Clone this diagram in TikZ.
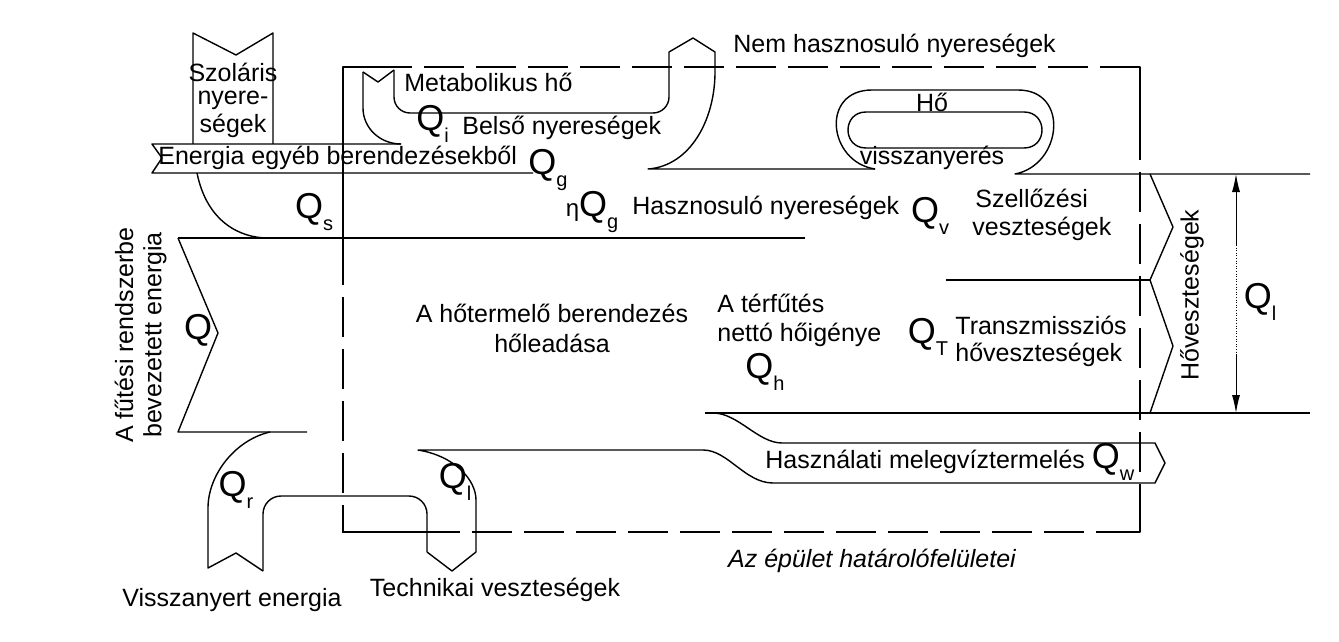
\documentclass[tikz,border=0pt]{standalone}
\usepackage{fontspec}
\setmainfont{Liberation Sans}
\usetikzlibrary{arrows.meta}
\newcommand{\qlab}[1]{{\fontsize{18}{18}\selectfont Q\raisebox{-6pt}{\fontsize{10}{10}\selectfont #1}}}
\begin{document}
\begin{tikzpicture}[x=0.5pt,y=-0.5pt,
  ln/.style={line width=0.7pt,line join=round},
  bdry/.style={line width=0.7pt,dash pattern=on 20pt off 6pt},
  txt/.style={font=\fontsize{12.5}{14}\selectfont,inner sep=0pt},
  ltxt/.style={txt,anchor=west}]
\useasboundingbox[fill=white] (0,0) rectangle (1339,642);
% building boundary
\draw[bdry] (343,245) -- (343,532) -- (1140,532) -- (1140,133);
\draw[bdry] (1140,67) -- (343,67);
\draw[ln] (343,245) -- (343,67) -- (400,67);
\draw[ln] (1140,133) -- (1140,67) -- (1100,67);
\draw[ln] (343,510) -- (343,532) -- (423,532);
\draw[ln] (1140,505) -- (1140,532) -- (1110,532);
% solar
\draw[ln] (193,144) -- (193,33) -- (236,55) -- (273,33) -- (273,144);
% energy from other appliances band
\draw[ln] (401,144) -- (152,144) -- (162,158) -- (152,173) -- (533,173);
% Qs curve and main line
\draw[ln] (197,173) .. controls (207,222) and (240,238) .. (268,238);
\draw[ln] (178,238) -- (805,238);
% Q arrow
\draw[ln] (178,238) -- (218,333) -- (178,432) -- (307,432);
% metabolic
\draw[ln] (363,72) -- (378,82) -- (394,70);
\draw[ln] (363,72) -- (363,108) .. controls (363,128) and (380,144) .. (401,144);
\draw[ln,rounded corners=8] (394,70) -- (394,113) -- (669,113) -- (669,52);
\draw[ln] (669,52) -- (693,38) -- (715,52) -- (715,72) .. controls (715,120) and (690,166) .. (648,169) -- (875,169);
% heat recovery loop
\draw[ln] (875,169) .. controls (828,162) and (820,90) .. (872,90) -- (1018,90) .. controls (1070,90) and (1062,165) .. (1015,174) -- (1310,174);
\draw[ln] (866,112) -- (1024,112) .. controls (1048,112) and (1048,148) .. (1024,148) -- (866,148) .. controls (842,148) and (842,112) .. (866,112) -- cycle;
% right chevrons
\draw[ln] (1150,174) -- (1173,227) -- (1150,280) -- (1173,346) -- (1150,413);
\draw[ln] (946,280) -- (1150,280);
\draw[ln] (705,413) -- (1310,413);
% dimension
\draw[line width=0.5pt,-{Latex[length=9pt,width=4pt]}] (1236,245) -- (1236,174);
\draw[line width=0.5pt,-{Latex[length=9pt,width=4pt]}] (1236,355) -- (1236,413);
\draw[line width=0.3pt,densely dotted] (1236,245) -- (1236,355);
% hot water and losses
\draw[ln] (713,413) .. controls (738,413) and (758,443) .. (782,443) -- (1155,443) -- (1165,463) -- (1155,483) -- (773,483) .. controls (745,483) and (728,450) .. (703,450) -- (418,450) .. controls (455,456) and (476,480) .. (476,500) -- (476,552) -- (452,571) -- (427,552);
\draw[ln,rounded corners=9] (427,552) -- (427,496) -- (263,496) -- (263,571);
\draw[ln] (263,571) -- (236,553) -- (208,568) -- (208,508) .. controls (208,475) and (235,440) .. (270,432);
% texts
\node[txt] (t1) at (233,72) {Szoláris};
\node[txt] (t2) at (233,100) {nyere-};
\node[txt] (t3) at (233,126) {ségek};
\node[ltxt] (t4) at (404,82) {Metabolikus hő};
\node[ltxt] (t5) at (416,124) {\qlab{i}};
\node[ltxt] (t6) at (462,128) {Belső nyereségek};
\node[ltxt] (t7) at (158,158) {Energia egyéb berendezésekből};
\node[txt] (t8) at (548,170) {\qlab{g}};
\node[txt] (t9) at (314,212) {\qlab{s}};
\node[txt] (t10) at (592,212) {{\fontsize{12}{12}\selectfont η}\qlab{g}};
\node[ltxt] (t11) at (632,208) {Hasznosuló nyereségek};
\node[ltxt] (t12) at (733,46) {Nem hasznosuló nyereségek};
\node[txt] (t13) at (932,102) {Hő};
\node[txt] (t14) at (932,158) {visszanyerés};
\node[txt] (t15) at (930,216) {\qlab{v}};
\node[ltxt] (t16) at (975,198) {Szellőzési};
\node[ltxt] (t17) at (972,229) {veszteségek};
\node[txt,rotate=90] (t18) at (124,335) {A fűtési rendszerbe};
\node[txt,rotate=90] (t19) at (155,335) {bevezetett energia};
\node[txt] (t20) at (198,333) {\qlab{}};
\node[txt] (t21) at (552,313) {A hőtermelő berendezés};
\node[txt] (t22) at (552,343) {hőleadása};
\node[ltxt] (t23) at (717,303) {A térfűtés};
\node[ltxt] (t24) at (717,335) {nettó hőigénye};
\node[txt] (t25) at (765,372) {\qlab{h}};
\node[txt] (t26) at (928,337) {\qlab{T}};
\node[ltxt] (t27) at (955,325) {Transzmissziós};
\node[ltxt] (t28) at (955,355) {hőveszteségek};
\node[txt,rotate=90] (t29) at (1192,295) {Hőveszteségek};
\node[txt] (t30) at (1260,302) {\qlab{l}};
\node[ltxt] (t31) at (765,462) {Használati melegvíztermelés \qlab{w}};
\node[txt] (t32) at (236,490) {\qlab{r}};
\node[txt] (t33) at (455,482) {\qlab{l}};
\node[txt,font=\fontsize{12.5}{14}\selectfont\itshape] (t34) at (872,561) {Az épület határolófelületei};
\node[txt] (t35) at (232,600) {Visszanyert energia};
\node[txt] (t36) at (495,590) {Technikai veszteségek};
\end{tikzpicture}
\end{document}
